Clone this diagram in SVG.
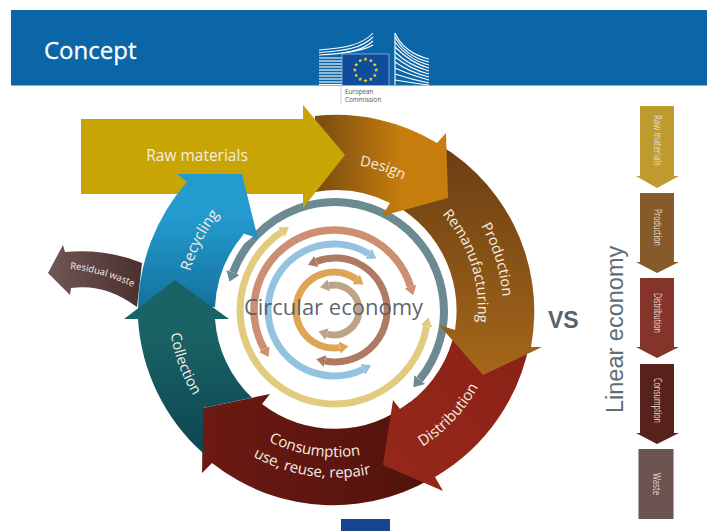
<svg xmlns="http://www.w3.org/2000/svg" xmlns:xlink="http://www.w3.org/1999/xlink" width="707" height="531" viewBox="0 0 707 531">
<style>
.t{font-family:"Open Sans","Noto Sans",sans-serif;fill:#f4eee4}
.m{text-anchor:middle}
.ring{fill:none}
.s{font-family:"Open Sans","Noto Sans",sans-serif;fill:#e6dcd0;font-size:10px;text-anchor:middle}
.b{fill:none;stroke:#fff;stroke-width:1.1}
</style>
<defs>
<linearGradient id="gDesign" x1="0" y1="0" x2="1" y2="0"><stop offset="0.05" stop-color="#7f4f10"/><stop offset="0.65" stop-color="#c67d0e"/><stop offset="1" stop-color="#c67d0e"/></linearGradient>
<linearGradient id="gProd" x1="0" y1="0" x2="0" y2="1"><stop offset="0" stop-color="#683c12"/><stop offset="1" stop-color="#a5671a"/></linearGradient>
<linearGradient id="gDist" x1="0" y1="1" x2="1" y2="0"><stop offset="0" stop-color="#96281b"/><stop offset="1" stop-color="#8a2216"/></linearGradient>
<linearGradient id="gCons" x1="0" y1="0" x2="1" y2="0"><stop offset="0" stop-color="#6c1a13"/><stop offset="1" stop-color="#4f120c"/></linearGradient>
<linearGradient id="gColl" x1="0" y1="0" x2="0" y2="1"><stop offset="0.3" stop-color="#1a6364"/><stop offset="1" stop-color="#0b4652"/></linearGradient>
<linearGradient id="gRec" x1="0" y1="0" x2="0" y2="1"><stop offset="0.3" stop-color="#249bcf"/><stop offset="1" stop-color="#13709c"/></linearGradient>
<linearGradient id="gRes" x1="0" y1="0" x2="1" y2="0"><stop offset="0" stop-color="#705655"/><stop offset="1" stop-color="#4b3030"/></linearGradient>
<path id="star" d="M0,-2.2 L.6,-.7 2.1,-.7 .9,.3 1.3,1.8 0,.9 -1.3,1.8 -.9,.3 -2.1,-.7 -.6,-.7Z" fill="#f5d92e"/>
<path id="pDesign" d="M195.2,263.6 A147 147 0 0 1 474.8,354.4" transform="translate(2 0)"/>
<path id="pProd" d="M285.9,148.3 A168 168 0 0 1 384.1,469.7"/>
<path id="pReman" d="M290.8,173 A143 143 0 0 1 379.2,445"/>
<path id="pDist" d="M223.8,428.2 A163 163 0 0 0 446.2,189.8"/>
<path id="pCons" d="M185.5,288 A151 151 0 0 0 484.2,331.8"/>
<path id="pUse" d="M165.7,285.2 A171 171 0 0 0 504,334.9"/>
<path id="pColl" d="M278.2,153 A166 166 0 0 0 391.8,465"/>
<path id="pRec" d="M267,442.7 A150 150 0 0 1 403,175.3"/>
<path id="pRes" d="M70,269 Q105,272 148,294"/>
<marker id="hGrey" markerUnits="userSpaceOnUse" viewBox="0 -7 10 14" refX="0" refY="0" markerWidth="10" markerHeight="14" orient="auto-start-reverse"><path d="M0,-7 L10,0 L0,7Z" fill="#6b8a91"/></marker>
<marker id="hYel" markerUnits="userSpaceOnUse" viewBox="0 -6 9 12" refX="0" refY="0" markerWidth="9" markerHeight="12" orient="auto-start-reverse"><path d="M0,-6 L9,0 L0,6Z" fill="#e2cb7e"/></marker>
<marker id="hSal" markerUnits="userSpaceOnUse" viewBox="0 -6 9 12" refX="0" refY="0" markerWidth="9" markerHeight="12" orient="auto-start-reverse"><path d="M0,-6 L9,0 L0,6Z" fill="#cd8f72"/></marker>
<marker id="hBlue" markerUnits="userSpaceOnUse" viewBox="0 -6 9 12" refX="0" refY="0" markerWidth="9" markerHeight="12" orient="auto-start-reverse"><path d="M0,-6 L9,0 L0,6Z" fill="#94c3e0"/></marker>
<marker id="hBrown" markerUnits="userSpaceOnUse" viewBox="0 -6 9 12" refX="0" refY="0" markerWidth="9" markerHeight="12" orient="auto-start-reverse"><path d="M0,-6 L9,0 L0,6Z" fill="#ae7a64"/></marker>
<marker id="hOr" markerUnits="userSpaceOnUse" viewBox="0 -6 9 12" refX="0" refY="0" markerWidth="9" markerHeight="12" orient="auto-start-reverse"><path d="M0,-6 L9,0 L0,6Z" fill="#dea654"/></marker>
<marker id="hTau" markerUnits="userSpaceOnUse" viewBox="0 -6 9 12" refX="0" refY="0" markerWidth="9" markerHeight="12" orient="auto-start-reverse"><path d="M0,-6 L9,0 L0,6Z" fill="#bda487"/></marker>
</defs>
<rect width="707" height="531" fill="#fff"/>
<g id="header">
<rect x="11" y="10" width="696" height="75.5" fill="#0a66a6"/>
<text x="44" y="59" font-size="24" style="font-family:'Open Sans','Noto Sans',sans-serif;fill:#fff;stroke:#fff;stroke-width:0.3">Concept</text>
</g>
<g id="logo">
<g class="b">
<path d="M319,50 C345,48 362,45 373,33"/><path d="M319,52.5 C345,51 362,48 373,37"/><path d="M319,55 C345,54 362,51 373,41"/><path d="M319,58 H342 M342,53 C355,51 365,50 373,45"/><path d="M319,61 H342"/><path d="M319,64 H342"/><path d="M319,67 H342"/><path d="M319,70 H342"/><path d="M319,73 H342"/><path d="M319,76 H342"/><path d="M319,79 H342"/><path d="M319,82 H342"/><path d="M319,84.5 H342"/>
<path d="M395,33 C400,45 412,55 429,59"/><path d="M395,37 C401,48 412,58 429,62"/><path d="M395,42 C402,51 413,61 429,65"/><path d="M395,47 C403,55 414,64 429,68"/><path d="M395,52 C403,60 415,67 429,71"/><path d="M395,57 C404,64 416,71 429,74"/><path d="M395,62 C405,69 417,74 429,77"/><path d="M395,68 C406,73 418,77 429,80"/><path d="M395,74 C407,78 419,81 429,83"/><path d="M395,80 C407,82 419,84 429,85"/>
<path d="M395,33 V85"/>
</g>
<rect x="342" y="54" width="47" height="31.5" fill="#0f4c9b" stroke="#a9c4dc" stroke-width="0.7"/>
<use href="#star" x="365.5" y="59.3"/><use href="#star" x="370.9" y="60.7"/><use href="#star" x="374.8" y="64.7"/><use href="#star" x="376.2" y="70"/><use href="#star" x="374.8" y="75.4"/><use href="#star" x="370.9" y="79.3"/><use href="#star" x="365.5" y="80.7"/><use href="#star" x="360.2" y="79.3"/><use href="#star" x="356.2" y="75.4"/><use href="#star" x="354.8" y="70"/><use href="#star" x="356.2" y="64.7"/><use href="#star" x="360.2" y="60.7"/>
<path d="M341,85 V104" stroke="#b0b0b0" stroke-width="0.6" fill="none"/>
<text x="345" y="94" font-size="6.3" style="font-family:'Open Sans',sans-serif;fill:#555">European</text>
<text x="345" y="101.5" font-size="6.3" style="font-family:'Open Sans',sans-serif;fill:#555">Commission</text>
</g>
<g id="connectors" class="ring">
<path d="M233,272.5 A109 109 0 1 1 419.7,379.6" stroke="#6b8a91" stroke-width="8" fill="none" marker-start="url(#hGrey)" marker-end="url(#hGrey)"/>
<path d="M426.6,326.3 A94 94 0 1 1 281.4,232.1" stroke="#e2cb7e" stroke-width="7" fill="none" marker-start="url(#hYel)" marker-end="url(#hYel)"/>
<path d="M264.2,349.1 A80 80 0 1 1 410.5,286.6" stroke="#cd8f72" stroke-width="7.5" fill="none" marker-start="url(#hSal)" marker-end="url(#hSal)"/>
<path d="M368.7,253.8 A66 66 0 1 0 362.9,369.3" stroke="#94c3e0" stroke-width="7" fill="none" marker-start="url(#hBlue)" marker-end="url(#hBlue)"/>
<path d="M316.4,261.5 A52 52 0 1 1 325.1,361" stroke="#ae7a64" stroke-width="7" fill="none" marker-start="url(#hBrown)" marker-end="url(#hBrown)"/>
<path d="M356.3,279.3 A38 38 0 1 0 339.6,347.6" stroke="#dea654" stroke-width="7" fill="none" marker-start="url(#hOr)" marker-end="url(#hOr)"/>
<path d="M328.8,285.5 A25 25 0 1 1 327.1,334" stroke="#bda487" stroke-width="7" fill="none" marker-start="url(#hTau)" marker-end="url(#hTau)"/>
</g>
<g id="centre-label"><text x="333.5" y="315" font-size="22" text-anchor="middle" style="font-family:'Open Sans','Noto Sans',sans-serif;fill:#4f565c" fill-opacity="0.92">Circular economy</text></g>
<g id="residual">
<path d="M48,273 L63,245 L65,252 Q105,248 142,263 L137,307 Q105,283 71,288 L70,295 Z" fill="url(#gRes)"/>
<text class="t" font-size="9.5"><textPath href="#pRes">Residual waste</textPath></text>
</g>
<g id="consumption">
<path d="M270,394 L262,404 A119 119 0 0 0 410,402 L445,470 A195 195 0 0 1 212,463 L202,473 L203,408 Z" fill="url(#gCons)"/>
<text class="t m" font-size="15"><textPath href="#pCons" startOffset="50%">Consumption</textPath></text>
<text class="t m" font-size="15"><textPath href="#pUse" startOffset="50%">use, reuse, repair</textPath></text>
</g>
<g id="distribution">
<path d="M393,400 L400,409 A119 119 0 0 0 452.5,340 L480,340 L530,340 A196 196 0 0 1 435,477 L443,491 L383,465 Z" fill="url(#gDist)"/>
<text class="t m" font-size="15"><textPath href="#pDist" startOffset="50%">Distribution</textPath></text>
</g>
<g id="production">
<path d="M425,137 A194 194 0 0 1 531,347 L542,347 L483,375 L439,325 L455,330 A121 121 0 0 0 385,200 Z" fill="url(#gProd)"/>
<text class="t m" font-size="14.5"><textPath href="#pProd" startOffset="50%">Production</textPath></text>
<text class="t m" font-size="14.5"><textPath href="#pReman" startOffset="50%">Remanufacturing</textPath></text>
</g>
<g id="design">
<path d="M315,116 A195 195 0 0 1 437,143 L446,133 L448,198 L382,216 L390,203 A120 120 0 0 0 315,192 Z" fill="url(#gDesign)"/>
<text class="t m" font-size="14.5"><textPath href="#pDesign" startOffset="50%">Design</textPath></text>
</g>
<g id="raw-materials">
<path d="M81,119 H303 V105 L345,155 L303,208 V194 H81 Z" fill="#c8a405"/>
<text class="t m" x="197" y="161" font-size="15.5">Raw materials</text>
</g>
<g id="recycling">
<path d="M177,174 L242,174 L258,239 L243,235 A120 120 0 0 0 215,307 L138,310 A196 196 0 0 1 187,182 Z" fill="url(#gRec)"/>
<path d="M243,233.5 L253,236.5 L245,243 Z" fill="#fff"/>
<text class="t m" font-size="15"><textPath href="#pRec" startOffset="50%">Recycling</textPath></text>
</g>
<g id="collection">
<path d="M175,280 L229,319 L215,319 A120 120 0 0 0 252,397.8 L203,408 L203,453 A196 196 0 0 1 138,319 L124,319 Z" fill="url(#gColl)"/>
<text class="t m" font-size="14.5"><textPath href="#pColl" startOffset="50%">Collection</textPath></text>
</g>
<g id="vs"><text x="548" y="328" font-size="23" font-weight="700" style="font-family:'Liberation Sans',sans-serif;fill:#56626c">VS</text></g>
<g id="linear-label"><text transform="translate(623 413) rotate(-90)" font-size="23.5" style="font-family:'Liberation Sans',sans-serif;fill:#5d6d7a">Linear economy</text></g>
<g id="lin-raw"><path d="M640,106 H674 V176 H679 L657,188 L636,176 H640 Z" fill="#bf9a2e"/><text class="s" transform="translate(654 140.5) rotate(90)" textLength="51" lengthAdjust="spacingAndGlyphs">Raw materials</text></g>
<g id="lin-prod"><path d="M640,193 H674 V262 H679 L657,273 L636,262 H640 Z" fill="#875a2a"/><text class="s" transform="translate(654 227.5) rotate(90)" textLength="37" lengthAdjust="spacingAndGlyphs">Production</text></g>
<g id="lin-dist"><path d="M640,278 H674 V347 H679 L657,358 L636,347 H640 Z" fill="#85342a"/><text class="s" transform="translate(654 313) rotate(90)" textLength="40" lengthAdjust="spacingAndGlyphs">Distribution</text></g>
<g id="lin-cons"><path d="M640,364 H674 V433 H679 L657,444 L636,433 H640 Z" fill="#58221c"/><text class="s" transform="translate(654 400.5) rotate(90)" textLength="45" lengthAdjust="spacingAndGlyphs">Consumption</text></g>
<g id="lin-waste"><rect x="638.5" y="449" width="35" height="70" fill="#6b5350"/><text class="s" transform="translate(653 484) rotate(90)" textLength="22" lengthAdjust="spacingAndGlyphs">Waste</text></g>
<rect id="footer-tab" x="341" y="519" width="49" height="12" fill="#17468f"/>
</svg>
